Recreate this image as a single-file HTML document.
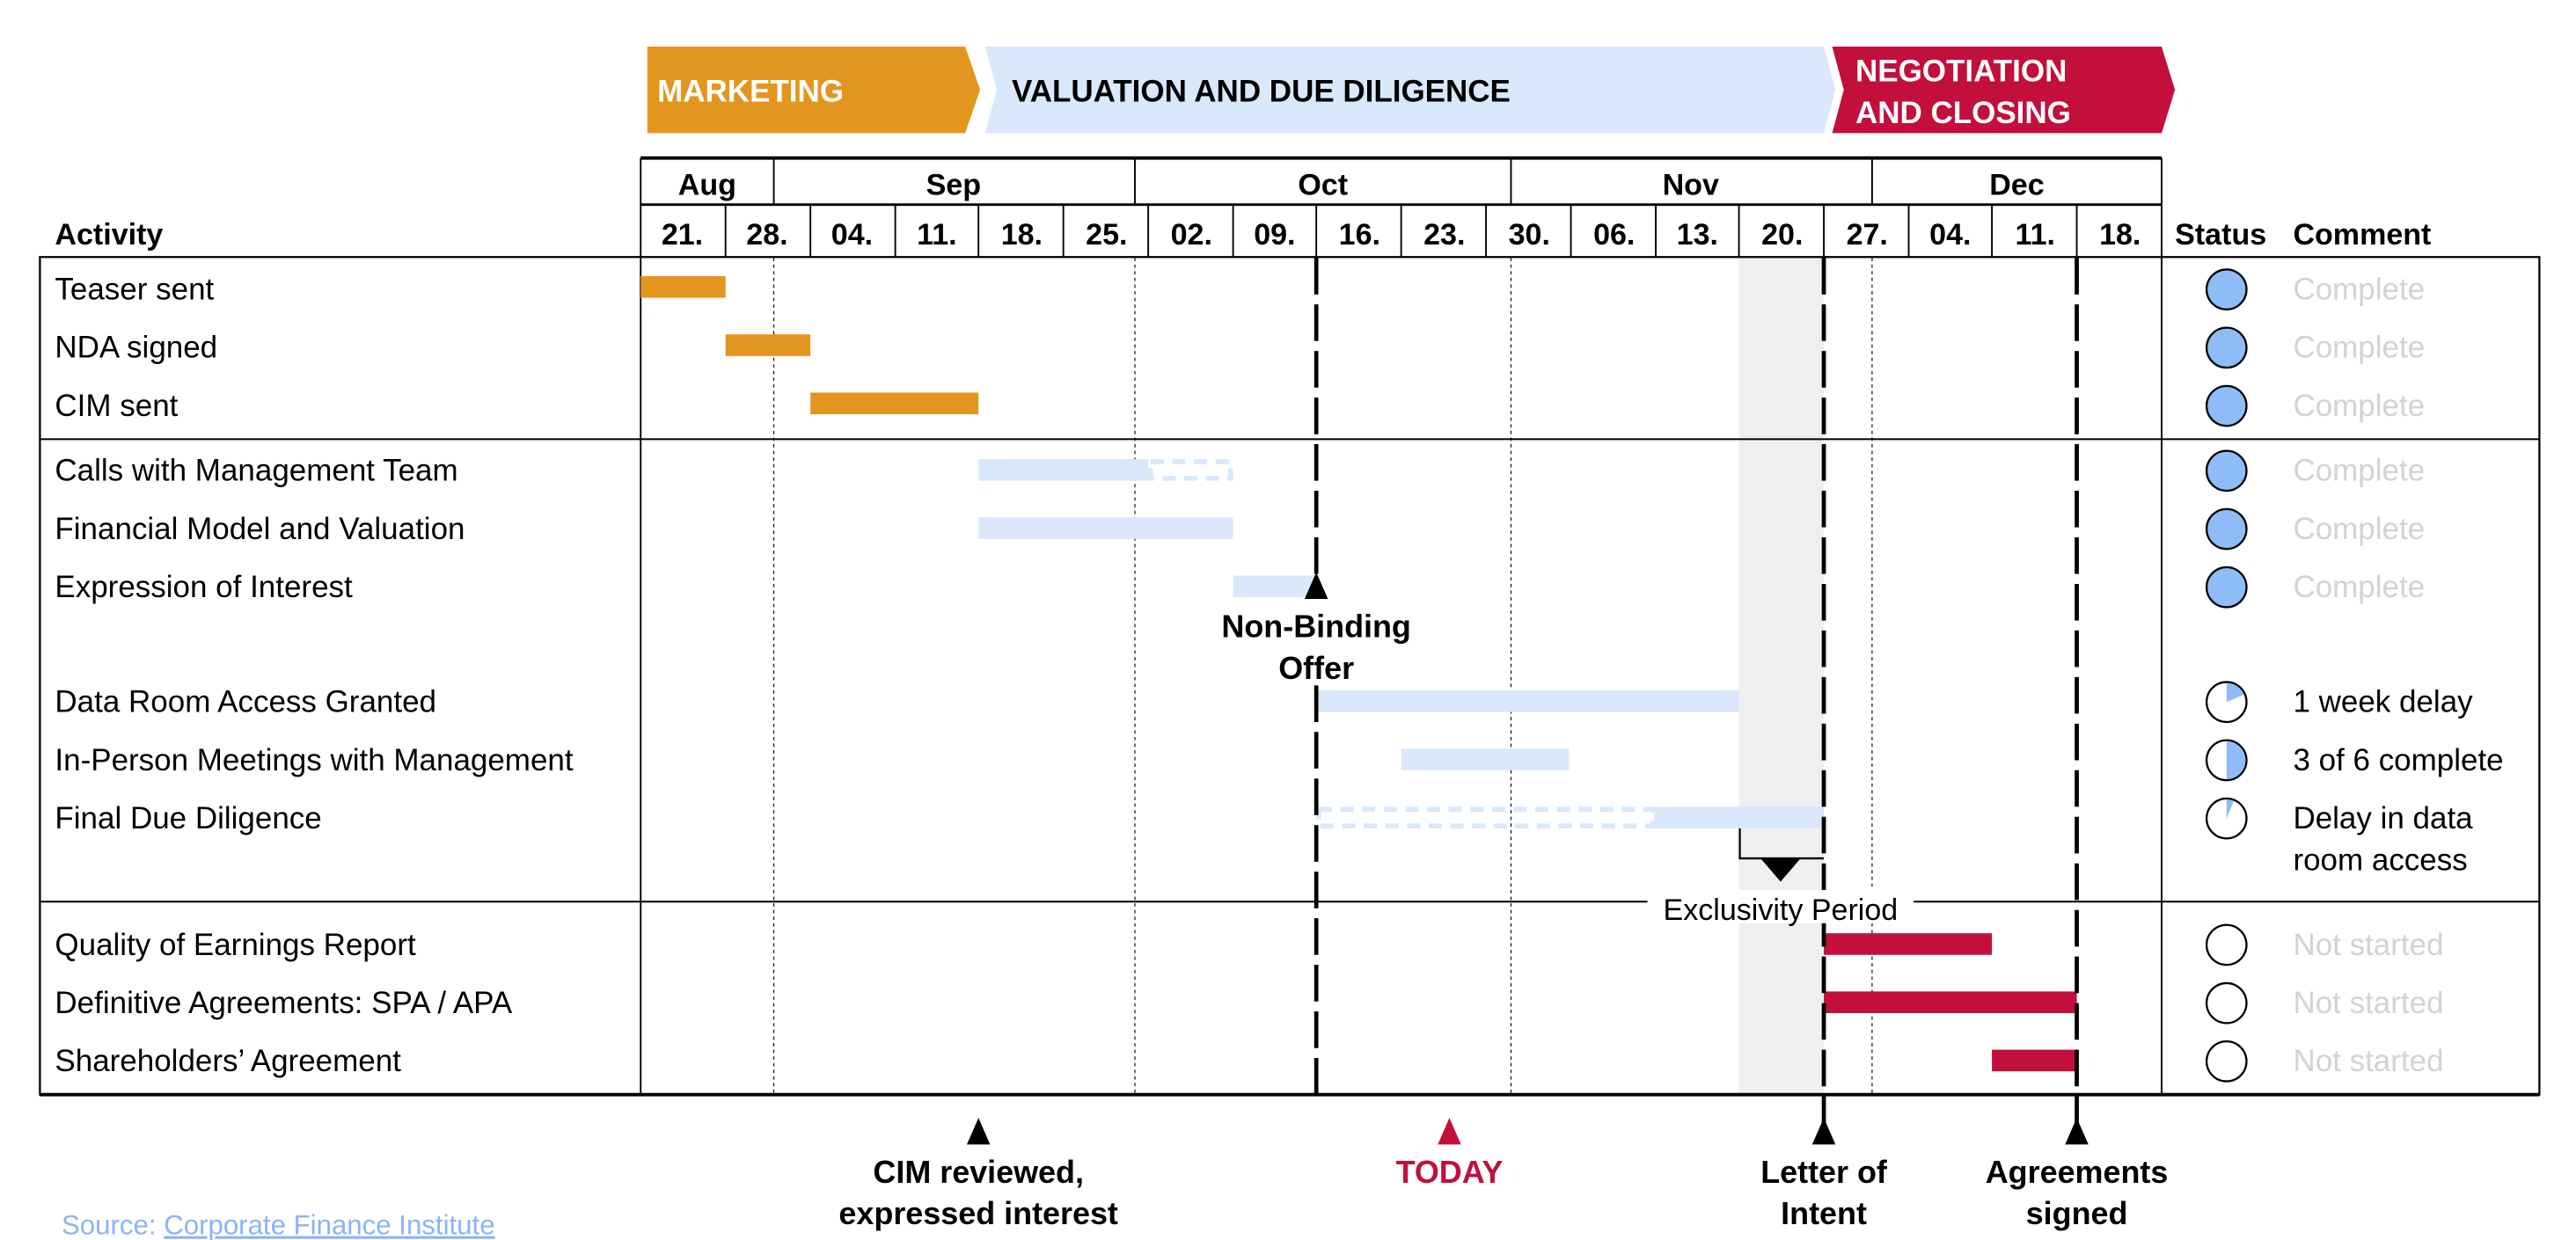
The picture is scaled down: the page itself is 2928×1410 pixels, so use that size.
<!DOCTYPE html>
<html><head><meta charset="utf-8"><style>
html,body{margin:0;padding:0;background:#fff;}
svg{display:block;font-family:"Liberation Sans",Arial,sans-serif;}
</style></head><body>
<svg width="2928" height="1410" viewBox="0 0 1548 745.4" preserveAspectRatio="none" xmlns="http://www.w3.org/2000/svg">
<polygon points="389,28 580,28 589,54 580,80 389,80" fill="#e3961f"/>
<polygon points="592,28 1096,28 1103,54 1096,80 592,80 599,54" fill="#d9e8fb"/>
<polygon points="1101,28 1299,28 1307,54 1299,80 1101,80 1108,54" fill="#c20f3b"/>
<g font-weight="bold" font-size="18.5">
<text x="395" y="61" fill="#fff">MARKETING</text>
<text x="608" y="61" fill="#000">VALUATION AND DUE DILIGENCE</text>
<text x="1115" y="49" fill="#fff">NEGOTIATION</text>
<text x="1115" y="74" fill="#fff">AND CLOSING</text>
</g>
<rect x="1045" y="155" width="51" height="503" fill="#eeeff1"/>
<g stroke="#000" fill="none">
<line x1="385" y1="95" x2="1299" y2="95" stroke-width="2"/>
<line x1="385" y1="123" x2="1299" y2="123" stroke-width="1.5"/>
<line x1="385" y1="95" x2="385" y2="154" stroke-width="1"/>
<line x1="1299" y1="95" x2="1299" y2="154" stroke-width="1"/>
<line x1="465" y1="95" x2="465" y2="123"/><line x1="682" y1="95" x2="682" y2="123"/>
<line x1="908" y1="95" x2="908" y2="123"/><line x1="1125" y1="95" x2="1125" y2="123"/>
</g>
<g stroke="#000" stroke-width="1">
<line x1="436" y1="123" x2="436" y2="154"/><line x1="487" y1="123" x2="487" y2="154"/>
<line x1="538" y1="123" x2="538" y2="154"/><line x1="588" y1="123" x2="588" y2="154"/>
<line x1="639" y1="123" x2="639" y2="154"/><line x1="690" y1="123" x2="690" y2="154"/>
<line x1="741" y1="123" x2="741" y2="154"/><line x1="791" y1="123" x2="791" y2="154"/>
<line x1="842" y1="123" x2="842" y2="154"/><line x1="893" y1="123" x2="893" y2="154"/>
<line x1="944" y1="123" x2="944" y2="154"/><line x1="995" y1="123" x2="995" y2="154"/>
<line x1="1045" y1="123" x2="1045" y2="154"/><line x1="1096" y1="123" x2="1096" y2="154"/>
<line x1="1147" y1="123" x2="1147" y2="154"/><line x1="1197" y1="123" x2="1197" y2="154"/>
<line x1="1248" y1="123" x2="1248" y2="154"/>
</g>
<g font-weight="bold" font-size="18" text-anchor="middle">
<text x="425" y="117">Aug</text><text x="573" y="117">Sep</text><text x="795" y="117">Oct</text>
<text x="1016" y="117">Nov</text><text x="1212" y="117">Dec</text>
<text x="410" y="147">21.</text><text x="461" y="147">28.</text><text x="512" y="147">04.</text>
<text x="563" y="147">11.</text><text x="614" y="147">18.</text><text x="665" y="147">25.</text>
<text x="716" y="147">02.</text><text x="766" y="147">09.</text><text x="817" y="147">16.</text>
<text x="868" y="147">23.</text><text x="919" y="147">30.</text><text x="970" y="147">06.</text>
<text x="1020" y="147">13.</text><text x="1071" y="147">20.</text><text x="1122" y="147">27.</text>
<text x="1172" y="147">04.</text><text x="1223" y="147">11.</text><text x="1274" y="147">18.</text>
</g>
<g font-weight="bold" font-size="18">
<text x="33" y="147">Activity</text><text x="1307" y="147">Status</text><text x="1378" y="147">Comment</text>
</g>
<g stroke="#000" stroke-width="0.6" stroke-dasharray="2,2">
<line x1="465" y1="155" x2="465" y2="658"/><line x1="682" y1="155" x2="682" y2="658"/>
<line x1="908" y1="155" x2="908" y2="658"/><line x1="1125" y1="155" x2="1125" y2="658"/>
</g>
<g stroke="#000" fill="none">
<rect x="24" y="154.5" width="1502" height="503.5" stroke-width="1.2"/>
<line x1="24" y1="658" x2="1526" y2="658" stroke-width="2"/>
<line x1="385" y1="154" x2="385" y2="658"/>
<line x1="1299" y1="154" x2="1299" y2="658"/>
<line x1="24" y1="264" x2="1526" y2="264"/>
<line x1="24" y1="542" x2="1526" y2="542"/>
</g>
<g fill="#e3961f">
<rect x="385" y="166" width="51" height="13"/><rect x="436" y="201" width="51" height="13"/><rect x="487" y="236" width="101" height="13"/>
</g>
<g fill="#d9e8fb">
<rect x="588" y="276" width="102" height="13"/>
<rect x="588" y="311" width="153" height="13"/>
<rect x="741" y="346" width="50" height="13"/>
<rect x="791" y="415" width="254" height="13"/>
<rect x="842" y="450" width="101" height="13"/>
<rect x="994" y="485" width="102" height="13"/>
</g>
<rect x="691.5" y="277.5" width="48" height="10" fill="none" stroke="#d9e8fb" stroke-width="3" stroke-dasharray="8,5"/>
<rect x="792.5" y="486.5" width="201" height="10" fill="none" stroke="#d9e8fb" stroke-width="3" stroke-dasharray="8,5"/>
<g fill="#c20f3b">
<rect x="1096" y="561" width="101" height="13"/><rect x="1096" y="596" width="152" height="13"/><rect x="1197" y="631" width="51" height="13"/>
</g>
<g stroke="#000" stroke-width="2.5" stroke-dasharray="22,6">
<line x1="791" y1="155" x2="791" y2="345"/>
<line x1="791" y1="412" x2="791" y2="658"/>
<line x1="1096" y1="155" x2="1096" y2="676"/>
<line x1="1248" y1="155" x2="1248" y2="676"/>
</g>
<polygon points="791,344 784,360 798,360" fill="#000"/>
<text x="791" y="383" font-weight="bold" font-size="19" text-anchor="middle">Non-Binding</text>
<text x="791" y="408" font-weight="bold" font-size="19" text-anchor="middle">Offer</text>
<polyline points="1045.5,498 1045.5,516 1096,516" fill="none" stroke="#000" stroke-width="1.2"/>
<polygon points="1058,516 1082,516 1070,530" fill="#000"/>
<rect x="990" y="535" width="160" height="20" fill="#fff"/>
<text x="1070" y="553" font-size="18" text-anchor="middle">Exclusivity Period</text>
<g font-size="18.5">
<text x="33" y="180">Teaser sent</text><text x="33" y="215">NDA signed</text><text x="33" y="250">CIM sent</text>
<text x="33" y="289">Calls with Management Team</text><text x="33" y="324">Financial Model and Valuation</text>
<text x="33" y="359">Expression of Interest</text><text x="33" y="428">Data Room Access Granted</text>
<text x="33" y="463">In-Person Meetings with Management</text><text x="33" y="498">Final Due Diligence</text>
<text x="33" y="574">Quality of Earnings Report</text><text x="33" y="609">Definitive Agreements: SPA / APA</text>
<text x="33" y="644">Shareholders’ Agreement</text>
</g>
<g stroke="#000" stroke-width="1.2">
<circle cx="1338" cy="174" r="12" fill="#8ebcf7"/><circle cx="1338" cy="209" r="12" fill="#8ebcf7"/>
<circle cx="1338" cy="244" r="12" fill="#8ebcf7"/><circle cx="1338" cy="283" r="12" fill="#8ebcf7"/>
<circle cx="1338" cy="318" r="12" fill="#8ebcf7"/><circle cx="1338" cy="353" r="12" fill="#8ebcf7"/>
<circle cx="1338" cy="422" r="12" fill="#fff"/><circle cx="1338" cy="457" r="12" fill="#fff"/>
<circle cx="1338" cy="492" r="12" fill="#fff"/>
<circle cx="1338" cy="568" r="12" fill="#fff"/><circle cx="1338" cy="603" r="12" fill="#fff"/><circle cx="1338" cy="638" r="12" fill="#fff"/>
</g>
<path d="M1338,422 L1338,410.6 A11.4,11.4 0 0 1 1348.5,417.6 Z" fill="#8ebcf7"/>
<path d="M1338,457 L1338,445.6 A11.4,11.4 0 0 1 1338,468.4 Z" fill="#8ebcf7"/>
<path d="M1338,492 L1338,480.6 A11.4,11.4 0 0 1 1342.3,481.4 Z" fill="#8ebcf7"/>
<g font-size="18.5">
<g fill="#d3d3d3">
<text x="1378" y="180">Complete</text><text x="1378" y="215">Complete</text><text x="1378" y="250">Complete</text>
<text x="1378" y="289">Complete</text><text x="1378" y="324">Complete</text><text x="1378" y="359">Complete</text>
<text x="1378" y="574">Not started</text><text x="1378" y="609">Not started</text><text x="1378" y="644">Not started</text>
</g>
<text x="1378" y="428">1 week delay</text><text x="1378" y="463">3 of 6 complete</text>
<text x="1378" y="498">Delay in data</text><text x="1378" y="523">room access</text>
</g>
<polygon points="588,672 581,688 595,688" fill="#000"/>
<polygon points="871,672 864,688 878,688" fill="#c20f3b"/>
<polygon points="1096,672 1089,688 1103,688" fill="#000"/>
<polygon points="1248,672 1241,688 1255,688" fill="#000"/>
<g font-weight="bold" font-size="19" text-anchor="middle">
<text x="588" y="711">CIM reviewed,</text><text x="588" y="736">expressed interest</text>
<text x="871" y="711" fill="#c20f3b">TODAY</text>
<text x="1096" y="711">Letter of</text><text x="1096" y="736">Intent</text>
<text x="1248" y="711">Agreements</text><text x="1248" y="736">signed</text>
</g>
<text x="37" y="742" font-size="16.5" fill="#8ab4f8">Source: <tspan text-decoration="underline">Corporate Finance Institute</tspan></text>
</svg>
</body></html>
